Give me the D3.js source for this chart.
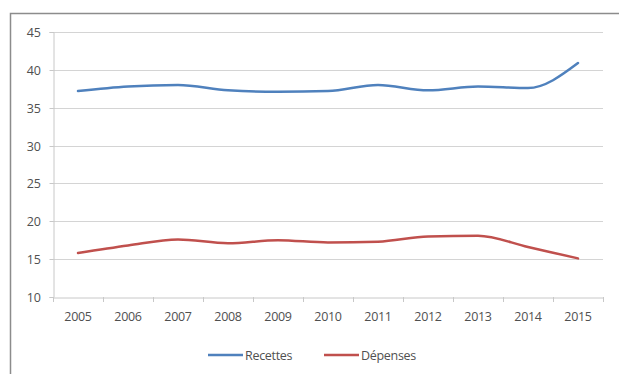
<!DOCTYPE html>
<html><head><meta charset="utf-8">
<script src="https://cdn.jsdelivr.net/npm/d3@7"></script>
<style>body{margin:0;background:#fff}svg{display:block}</style>
</head><body><svg id="c" width="619" height="374"></svg>
<script>
const years = ["2005","2006","2007","2008","2009","2010","2011","2012","2013","2014","2015"];
const recettes = [37.2, 37.8, 38.0, 37.3, 37.1, 37.2, 38.0, 37.3, 37.8, 37.6, 40.9];
const depenses = [15.8, 16.8, 17.6, 17.1, 17.5, 17.2, 17.3, 18.0, 18.1, 16.6, 15.1];
const yTicks = [10, 15, 20, 25, 30, 35, 40, 45];
const seriesNames = ["Recettes", "Dépenses"];
const colors = ["#4F81BD", "#C0504D"];

const svg = d3.select("#c");
const font = "'Open Sans', 'Liberation Sans', Arial, sans-serif";
// frame
svg.append("path").attr("d","M10.5,374 V13.5 H619").attr("fill","none").attr("stroke","#8c8c8c").attr("stroke-width",1.5);

const x = d3.scaleBand().domain(years).range([53, 603]);
const y = d3.scaleLinear().domain([10, 45]).range([297, 32]);

// gridlines
svg.append("g").selectAll("line").data(yTicks.slice(1)).join("line")
  .attr("x1",53).attr("x2",603).attr("y1",d=>Math.round(y(d))+0.5).attr("y2",d=>Math.round(y(d))+0.5)
  .attr("stroke","#d4d4d4").attr("stroke-width",1);

// y axis
const ya = svg.append("g").attr("transform","translate(53.5,0)")
  .call(d3.axisLeft(y).tickValues(yTicks).tickSize(4).tickPadding(9));
ya.selectAll("path,line").attr("stroke","#c8c8c8");
ya.selectAll("text").attr("font-family",font).attr("font-size",12.5).attr("fill","#505050").attr("letter-spacing","-0.3");
ya.selectAll(".tick").attr("transform",d=>`translate(0,${Math.round(y(d))+0.5})`);

// x axis
const xa = svg.append("g").attr("transform","translate(0,297.5)")
  .call(d3.axisBottom(x).tickSize(0).tickPadding(15));
xa.select(".domain").attr("stroke","#c8c8c8");
xa.selectAll("text").attr("font-family",font).attr("font-size",12.5).attr("fill","#505050").attr("letter-spacing","-0.3");
// category boundary ticks
svg.append("g").selectAll("line").data(years.concat(["end"])).join("line")
  .attr("x1",(d,i)=>53+i*x.step()+0.5).attr("x2",(d,i)=>53+i*x.step()+0.5)
  .attr("y1",297).attr("y2",302).attr("stroke","#c8c8c8");

const line = d3.line().x((d,i)=>x(years[i])+x.bandwidth()/2).y(d=>y(d)).curve(d3.curveMonotoneX);
[recettes, depenses].forEach((s,k)=>{
  svg.append("path").datum(s).attr("d",line).attr("fill","none")
    .attr("stroke",colors[k]).attr("stroke-width",2.5).attr("stroke-linecap","round");
});

// legend
const legX = [208, 324];
seriesNames.forEach((n,k)=>{
  svg.append("line").attr("x1",legX[k]).attr("x2",legX[k]+35).attr("y1",355).attr("y2",355)
    .attr("stroke",colors[k]).attr("stroke-width",2.5);
  svg.append("text").attr("x",legX[k]+37).attr("y",359.5).text(n)
    .attr("font-family",font).attr("font-size",12.5).attr("fill","#505050").attr("letter-spacing","-0.3");
});
</script></body></html>
